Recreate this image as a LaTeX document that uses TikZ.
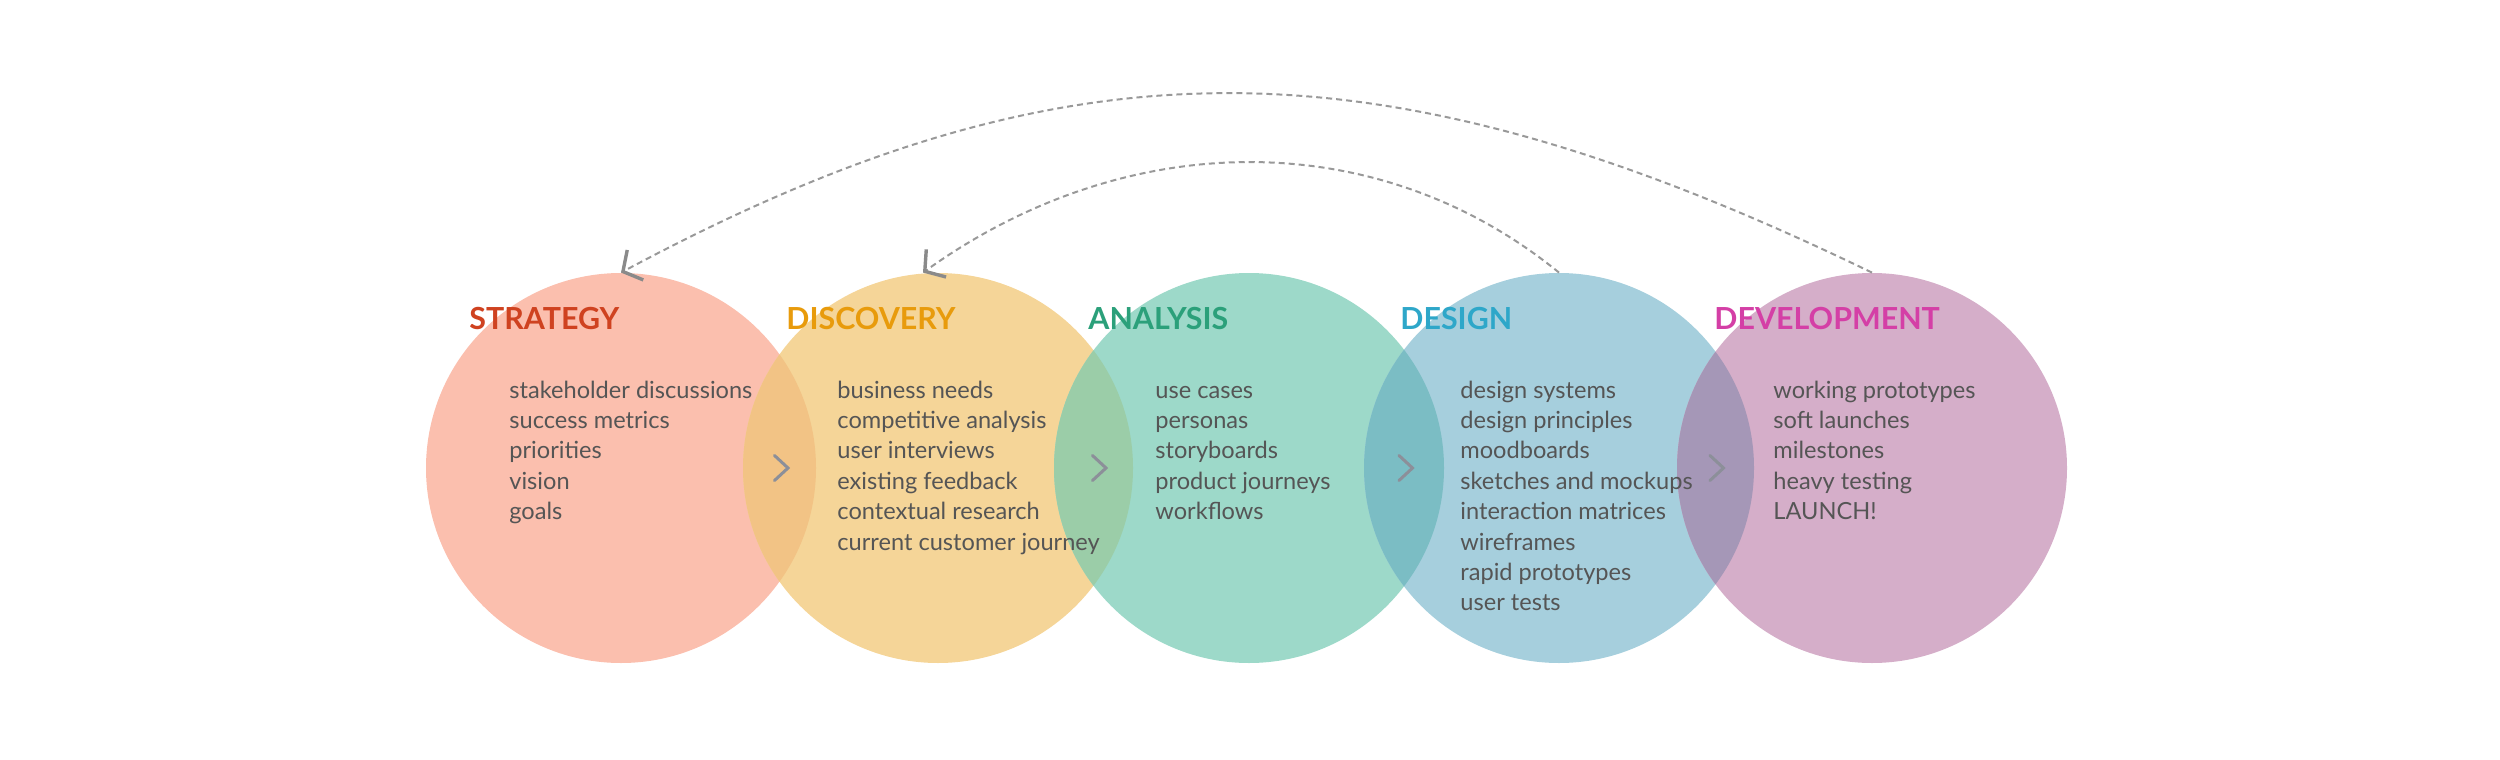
\documentclass[tikz,border=0pt]{standalone}
\usepackage{fontspec}
\setmainfont{Lato}
\usetikzlibrary{arrows.meta,calc}
\definecolor{fc1}{HTML}{FBBFAE}
\definecolor{fc2}{HTML}{F5D598}
\definecolor{fc3}{HTML}{9DD9C9}
\definecolor{fc4}{HTML}{A6CFDD}
\definecolor{fc5}{HTML}{D5AEC9}
\definecolor{ov12}{HTML}{F2C385}
\definecolor{ov23}{HTML}{9BCDA8}
\definecolor{ov34}{HTML}{7BBDC4}
\definecolor{ov45}{HTML}{A597B7}
\definecolor{tc1}{HTML}{CF4220}
\definecolor{tc2}{HTML}{E89B0C}
\definecolor{tc3}{HTML}{2BA07A}
\definecolor{tc4}{HTML}{2EA7C9}
\definecolor{tc5}{HTML}{D43FA6}
\definecolor{txt}{HTML}{555555}
\definecolor{chevc}{HTML}{8C8F99}
\definecolor{arcc}{HTML}{999999}
\definecolor{tipc}{HTML}{8A8A8A}
\begin{document}
\begin{tikzpicture}[x=0.5pt,y=-0.5pt,
  circ/.style={circle,minimum size=195pt,inner sep=0pt,draw=none},
  ttl/.style={anchor=base west,inner sep=0pt,font=\fontsize{15.2}{18}\selectfont\bfseries},
  items/.style={anchor=base west,inner sep=0pt,align=left,text=txt,font=\fontsize{11.8}{15.2}\selectfont},
  chev/.style={draw=chevc,line width=1.5pt,line cap=round},
  backarc/.style={draw=arcc,line width=1pt,dash pattern=on 3pt off 2pt,
    -{Straight Barb[length=7pt,width=17pt,line width=1.7pt,color=tipc]}}
]
\path[use as bounding box] (0,0) rectangle (2500,760);
% circles
\node[circ,fill=fc1] (c1) at (621,468) {};
\node[circ,fill=fc2] (c2) at (938,468) {};
\node[circ,fill=fc3] (c3) at (1249,468) {};
\node[circ,fill=fc4] (c4) at (1559,468) {};
\node[circ,fill=fc5] (c5) at (1872,468) {};
% overlaps
\begin{scope}
  \clip (c1.center) circle[radius=97.5pt];
  \fill[ov12] (c2.center) circle[radius=97.5pt];
\end{scope}
\begin{scope}
  \clip (c2.center) circle[radius=97.5pt];
  \fill[ov23] (c3.center) circle[radius=97.5pt];
\end{scope}
\begin{scope}
  \clip (c3.center) circle[radius=97.5pt];
  \fill[ov34] (c4.center) circle[radius=97.5pt];
\end{scope}
\begin{scope}
  \clip (c4.center) circle[radius=97.5pt];
  \fill[ov45] (c5.center) circle[radius=97.5pt];
\end{scope}
% chevrons
\draw[chev] ($(c1)!0.5!(c2)+(-5,-12.5)$) -- ++(13.5,12.5) -- ++(-13.5,12.5);
\draw[chev] ($(c2)!0.5!(c3)+(-1,-12.5)$) -- ++(13.5,12.5) -- ++(-13.5,12.5);
\draw[chev] ($(c3)!0.5!(c4)+(-5,-12.5)$) -- ++(13.5,12.5) -- ++(-13.5,12.5);
\draw[chev] ($(c4)!0.5!(c5)+(-5.5,-12.5)$) -- ++(13.5,12.5) -- ++(-13.5,12.5);
% titles
\node[ttl,text=tc1] (t1) at (469,329) {STRATEGY};
\node[ttl,text=tc2] (t2) at (786,329) {DISCOVERY};
\node[ttl,text=tc3] (t3) at (1088,329) {ANALYSIS};
\node[ttl,text=tc4] (t4) at (1400,329) {DESIGN};
\node[ttl,text=tc5] (t5) at (1714,329) {DEVELOPMENT};
% item lists (base anchor = baseline of the last line)
\node[items] (l1) at (509,519.6) {stakeholder discussions\\success metrics\\priorities\\vision\\goals};
\node[items] (l2) at (837,550) {business needs\\competitive analysis\\user interviews\\existing feedback\\contextual research\\current customer journey};
\node[items] (l3) at (1155,519.6) {use cases\\personas\\storyboards\\product journeys\\workflows};
\node[items] (l4) at (1460,610.8) {design systems\\design principles\\moodboards\\sketches and mockups\\interaction matrices\\wireframes\\rapid prototypes\\user tests};
\node[items] (l5) at (1773,519.6) {working prototypes\\soft launches\\milestones\\heavy testing\\LAUNCH!};
% feedback arcs
\draw[backarc] (c5.north) .. controls +(-492,-238) and +(448,-240) .. (c1.north);
\draw[backarc] (c4.north) .. controls +(-179,-146) and +(207,-148) .. ([xshift=-7.5pt]c2.north);
\end{tikzpicture}
\end{document}
